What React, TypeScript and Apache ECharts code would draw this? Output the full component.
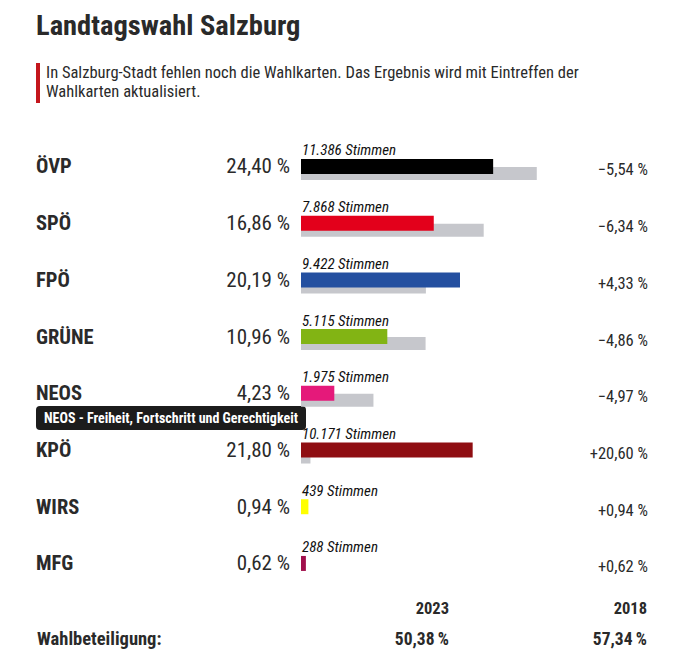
import React, { useEffect, useRef } from "react";
import * as echarts from "echarts";

const parties = ["ÖVP", "SPÖ", "FPÖ", "GRÜNE", "NEOS", "KPÖ", "WIRS", "MFG"];
const share2023 = [24.4, 16.86, 20.19, 10.96, 4.23, 21.8, 0.94, 0.62];
const share2018 = [29.94, 23.2, 15.86, 15.82, 9.2, 1.2, 0, 0];
const diffLabels = ["−5,54 %", "−6,34 %", "+4,33 %", "−4,86 %", "−4,97 %", "+20,60 %", "+0,94 %", "+0,62 %"];
const votes = ["11.386", "7.868", "9.422", "5.115", "1.975", "10.171", "439", "288"];
const partyColors = ["#000000", "#e3001b", "#2450a0", "#82b414", "#e5197a", "#8f0e12", "#ffff00", "#a1104c"];
const turnoutYears = ["2023", "2018"];
const turnoutValues = ["50,38\u2009%", "57,34\u2009%"];

const FONT = "'Roboto Condensed', 'Liberation Sans Narrow', 'DejaVu Sans Condensed', sans-serif";
const TXT = "#2a2a2a";

const fmtPct = (v: number) => v.toFixed(2).replace(".", ",") + " %";

export default function App() {
  const ref = useRef<HTMLDivElement>(null);
  useEffect(() => {
    if (!ref.current) return;
    const chart = echarts.init(ref.current, null, { renderer: "svg" });
    const gridTop = 138.1;
    const gridH = 453.7;
    const bottomText = (text: string, x: number, y: number, align: string, size: number) => ({
      type: "text",
      x,
      y,
      style: { text, fontSize: size, fontWeight: "bold", fill: TXT, fontFamily: FONT, align, verticalAlign: "middle" },
    });
    chart.setOption({
      animation: false,
      backgroundColor: "#ffffff",
      textStyle: { fontFamily: FONT },
      grid: [
        { left: 301, top: gridTop, width: 315, height: gridH },
        { left: 301, top: gridTop + 7, width: 315, height: gridH },
        { left: 301, top: gridTop + 3.5, width: 315, height: gridH },
      ],
      xAxis: [
        { type: "value", gridIndex: 0, min: 0, max: 40, show: false },
        { type: "value", gridIndex: 1, min: 0, max: 40, show: false },
        { type: "value", gridIndex: 2, min: 0, max: 40, show: false },
      ],
      yAxis: [
        {
          type: "category",
          gridIndex: 0,
          inverse: true,
          data: parties,
          axisLine: { show: false },
          axisTick: { show: false },
          splitLine: { show: false },
          axisLabel: {
            margin: 11,
            formatter: (val: string, idx: number) => `{n|${val}}{p|${fmtPct(share2023[idx])}}`,
            rich: {
              n: { width: 180, align: "left", fontSize: 20.5, fontWeight: "bold", color: TXT, fontFamily: FONT },
              p: { width: 74, align: "right", fontSize: 21, color: TXT, fontFamily: FONT },
            },
          },
        },
        {
          type: "category",
          gridIndex: 1,
          inverse: true,
          data: parties,
          show: false,
        },
        {
          type: "category",
          gridIndex: 2,
          inverse: true,
          position: "right",
          data: diffLabels,
          axisLine: { show: false },
          axisTick: { show: false },
          axisLabel: {
            margin: 32,
            align: "right",
            fontSize: 16.5,
            color: TXT,
            fontFamily: FONT,
          },
        },
      ],
      series: [
        {
          type: "bar",
          name: "2018",
          xAxisIndex: 1,
          yAxisIndex: 1,
          barWidth: 13,
          z: 1,
          itemStyle: { color: "#c6c7cc" },
          data: share2018,
        },
        {
          type: "bar",
          name: "2023",
          xAxisIndex: 0,
          yAxisIndex: 0,
          barWidth: 15,
          z: 3,
          data: share2023.map((v, i) => ({ value: v, itemStyle: { color: partyColors[i] } })),
          label: {
            show: true,
            position: [1, -1],
            align: "left",
            verticalAlign: "bottom",
            fontSize: 15,
            fontStyle: "italic",
            color: "#111111",
            fontFamily: FONT,
            formatter: (p: any) => `${votes[p.dataIndex]} Stimmen`,
          },
        },
      ],
      graphic: [
        {
          type: "text",
          x: 36,
          y: 25,
          style: { text: "Landtagswahl Salzburg", fontSize: 28.5, fontWeight: "bold", fill: TXT, fontFamily: FONT, verticalAlign: "middle" },
        },
        { type: "rect", shape: { x: 36, y: 63, width: 4, height: 40 }, style: { fill: "#c4161c" } },
        {
          type: "text",
          x: 46,
          y: 82.3,
          style: {
            text: "In Salzburg-Stadt fehlen noch die Wahlkarten. Das Ergebnis wird mit Eintreffen der\nWahlkarten aktualisiert.",
            fontSize: 16.5,
            lineHeight: 19,
            fill: TXT,
            fontFamily: FONT,
            verticalAlign: "middle",
          },
        },
        {
          type: "group",
          z: 100,
          children: [
            { type: "rect", shape: { x: 36, y: 406, width: 270, height: 24, r: 4 }, style: { fill: "#1c1c1c" } },
            {
              type: "text",
              x: 171,
              y: 418,
              style: {
                text: "NEOS - Freiheit, Fortschritt und Gerechtigkeit",
                fontSize: 14,
                fontWeight: "bold",
                fill: "#ffffff",
                fontFamily: FONT,
                align: "center",
                verticalAlign: "middle",
              },
            },
          ],
        },
        bottomText(turnoutYears[0], 449, 608, "right", 16.5),
        bottomText(turnoutYears[1], 647, 608, "right", 16.5),
        bottomText("Wahlbeteiligung:", 37, 638.5, "left", 18.5),
        bottomText(turnoutValues[0], 449, 638.5, "right", 17.5),
        bottomText(turnoutValues[1], 647, 638.5, "right", 17.5),
      ],
    });
    return () => chart.dispose();
  }, []);
  return <div ref={ref} style={{ position: "absolute", left: 0, top: 0, width: 680, height: 658 }} />;
}
